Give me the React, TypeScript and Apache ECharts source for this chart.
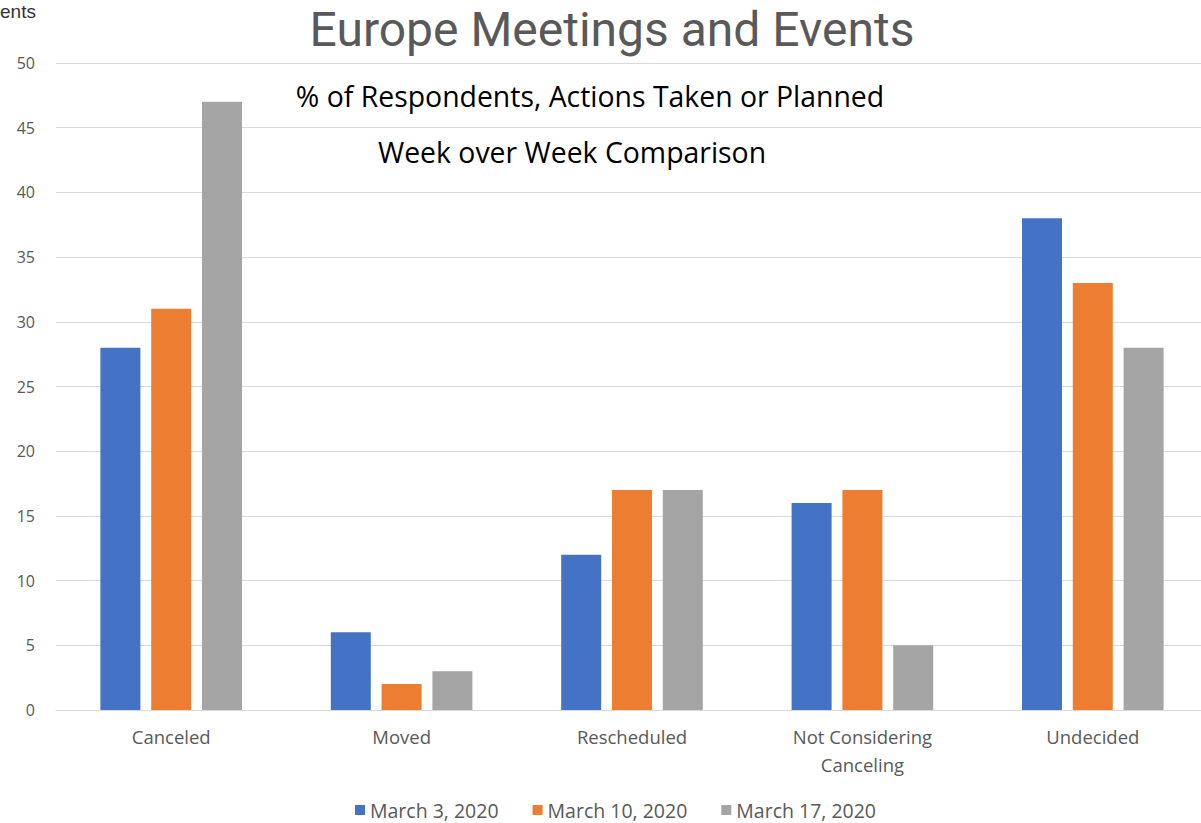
import React, { useEffect, useRef } from "react";
import * as echarts from "echarts";

const categories = ["Canceled", "Moved", "Rescheduled", "Not Considering\nCanceling", "Undecided"];
const seriesNames = ["March 3, 2020", "March 10, 2020", "March 17, 2020"];
const march3 = [28, 6, 12, 16, 38];
const march10 = [31, 2, 17, 17, 33];
const march17 = [47, 3, 17, 5, 28];
const colors = ["#4472C4", "#ED7D31", "#A5A5A5"];
const yTicks = { min: 0, max: 50, interval: 5 };

export default function App() {
  const ref = useRef<HTMLDivElement>(null);
  useEffect(() => {
    if (!ref.current) return;
    const chart = echarts.init(ref.current, null, { renderer: "svg" });
    const data = [march3, march10, march17];
    chart.setOption({
      animation: false,
      backgroundColor: "#ffffff",
      textStyle: { fontFamily: "Open Sans" },
      graphic: [
        { type: "text", x: 0, y: 11, style: { text: "ents", font: "19px 'Liberation Sans'", fill: "#333333", verticalAlign: "middle" } },
        { type: "text", x: 612, y: 29, style: { text: "Europe Meetings and Events", font: "48px 'Roboto'", fill: "#595959", align: "center", verticalAlign: "middle" } },
        { type: "text", x: 590, y: 96, style: { text: "% of Respondents, Actions Taken or Planned", font: "28.4px 'Open Sans'", fill: "#000000", align: "center", verticalAlign: "middle" } },
        { type: "text", x: 572, y: 152, style: { text: "Week over Week Comparison", font: "28.4px 'Open Sans'", fill: "#000000", align: "center", verticalAlign: "middle" } },
      ],
      legend: {
        data: seriesNames,
        top: 795,
        left: 350,
        itemWidth: 10,
        itemHeight: 10,
        itemGap: 34,
        icon: "rect",
        textStyle: { fontSize: 19.5, color: "#595959", fontFamily: "Open Sans" },
      },
      grid: { left: 56, top: 63, width: 1152, height: 647, containLabel: false },
      xAxis: {
        type: "category",
        data: categories,
        axisLine: { lineStyle: { color: "#d9d9d9" } },
        axisTick: { show: false },
        axisLabel: { color: "#595959", fontSize: 18.5, margin: 12, lineHeight: 28, interval: 0 },
      },
      yAxis: {
        type: "value",
        min: yTicks.min,
        max: yTicks.max,
        interval: yTicks.interval,
        axisLine: { show: false },
        axisTick: { show: false },
        splitLine: { lineStyle: { color: "#d9d9d9" } },
        axisLabel: { color: "#595959", fontSize: 16, margin: 21 },
      },
      series: seriesNames.map((name, i) => ({
        name,
        type: "bar",
        data: data[i],
        barWidth: 40,
        barGap: "27%",
        itemStyle: { color: colors[i] },
      })),
    });
    return () => chart.dispose();
  }, []);
  return (
    <div style={{ position: "absolute", left: 0, top: 0, width: 1201, height: 823, overflow: "hidden", background: "#fff" }}>
      <div ref={ref} style={{ width: 1215, height: 823 }} />
    </div>
  );
}
